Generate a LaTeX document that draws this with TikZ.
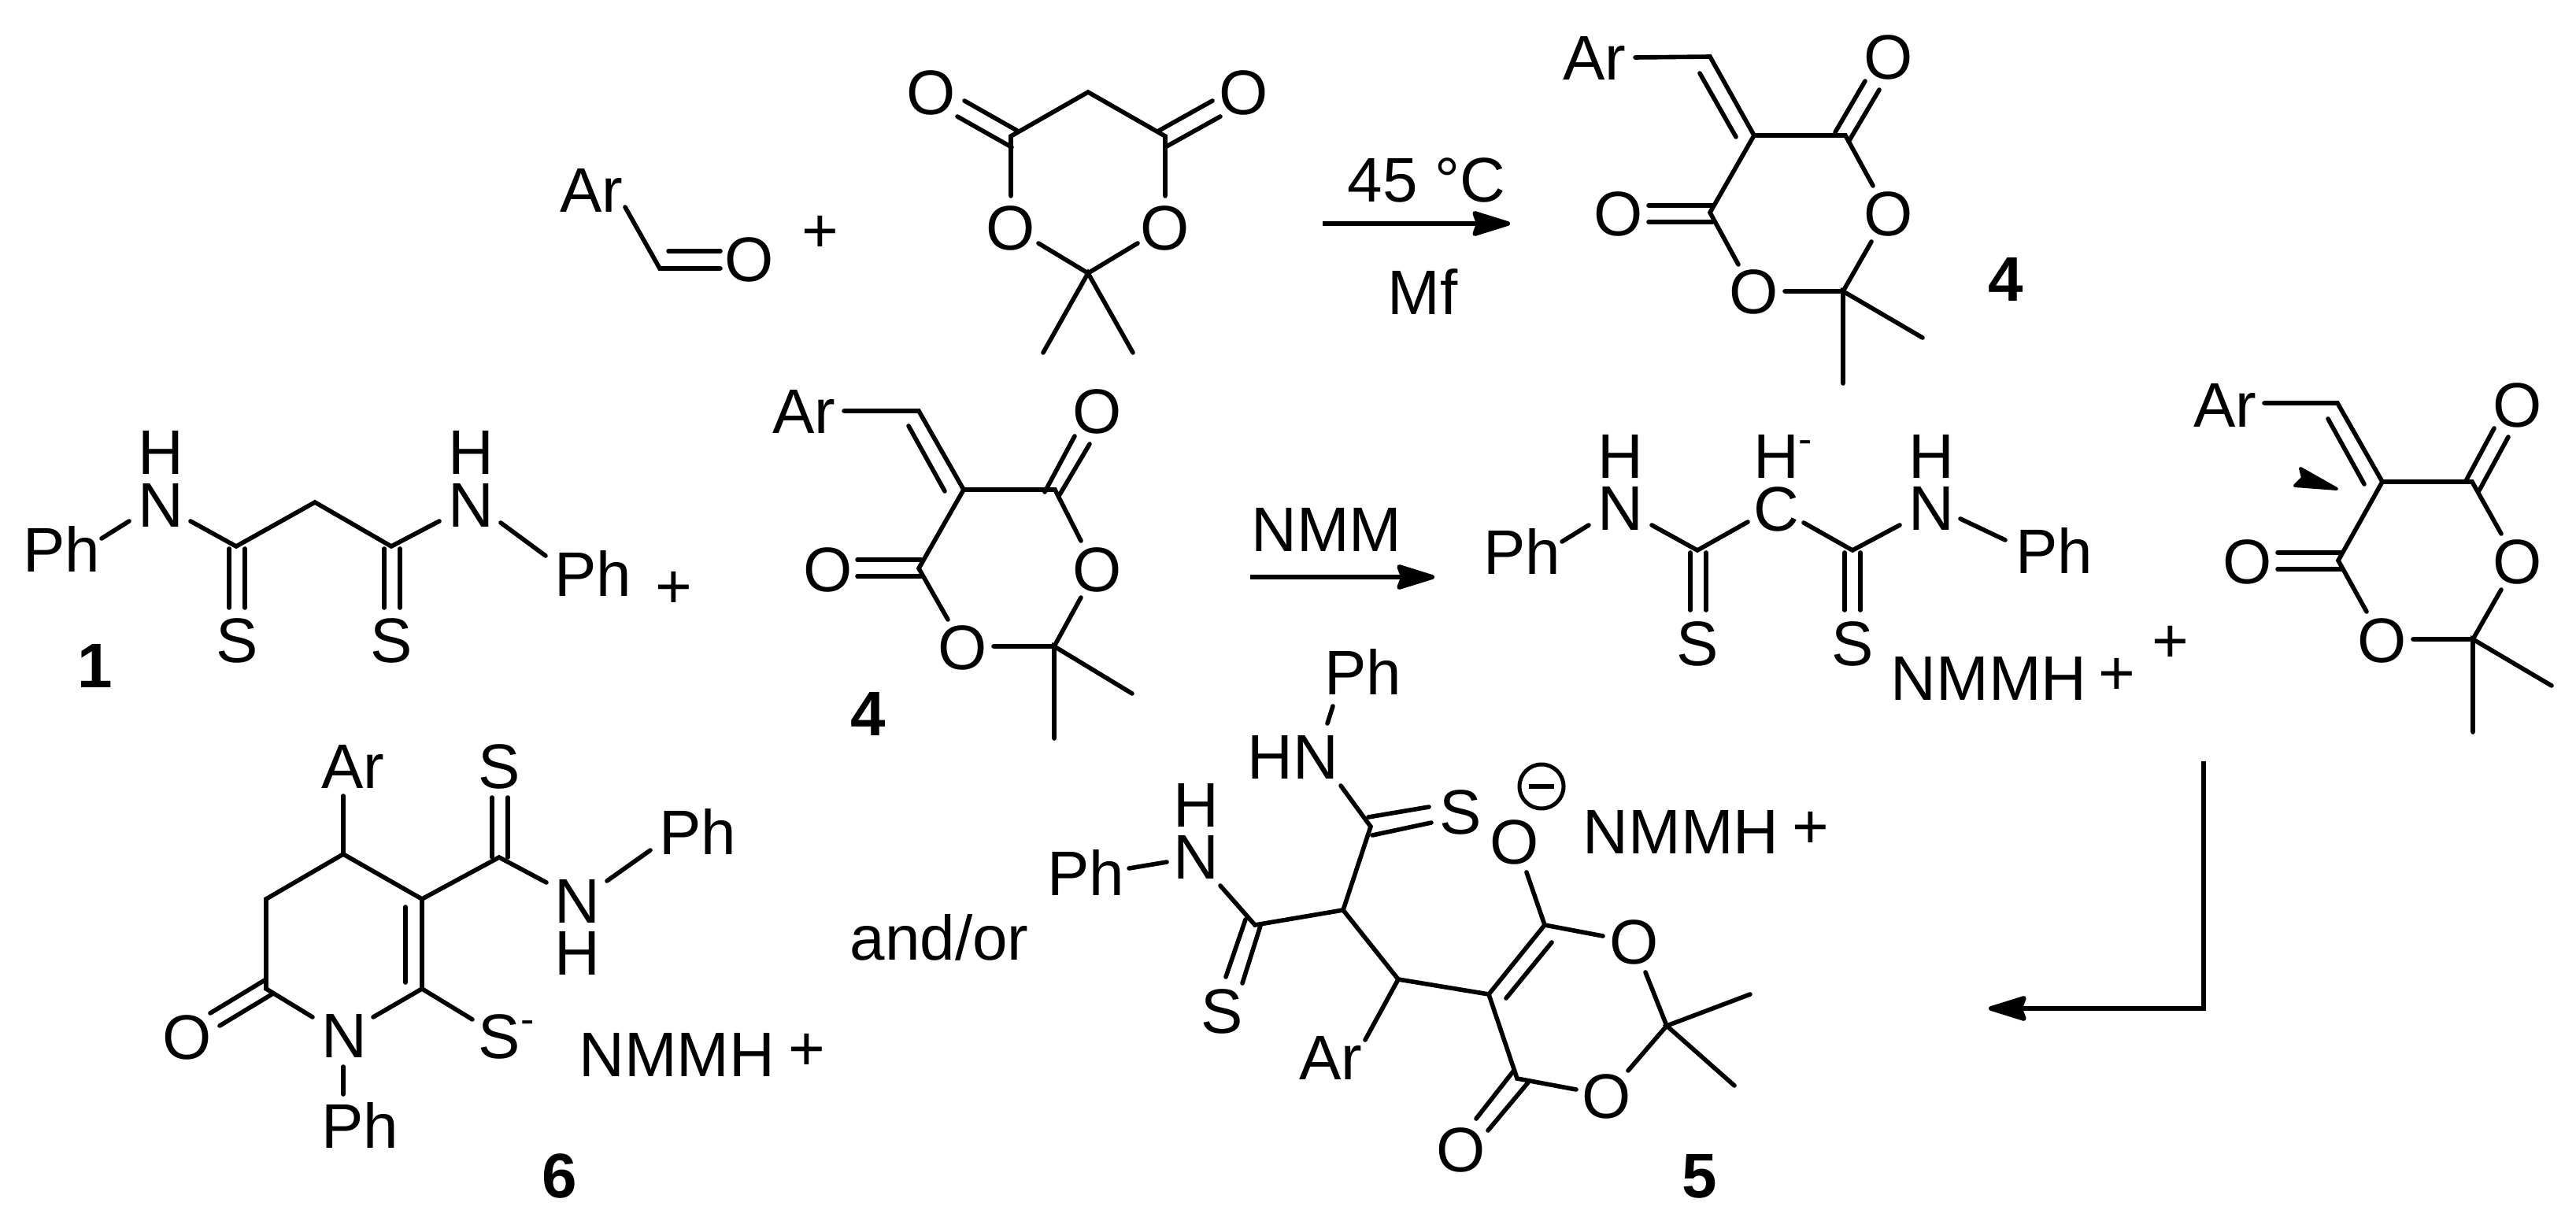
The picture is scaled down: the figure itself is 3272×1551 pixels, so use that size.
\documentclass[tikz,border=0pt]{standalone}
\usepackage{fontspec}
\setmainfont{Liberation Sans}
\usetikzlibrary{arrows.meta}
\tikzset{
  txt/.style={inner sep=0pt,outer sep=0pt,anchor=base,font=\fontsize{40}{48}\selectfont},
  numlabel/.style={txt,font=\fontsize{40}{48}\selectfont\bfseries},
  chg/.style={txt,font=\fontsize{26}{30}\selectfont},
  bond/.style={line width=2.8pt,line cap=round,line join=miter},
  rxn/.style={line width=2.9pt,-{Stealth[length=28pt,width=17pt,inset=3pt,sep=0pt,round]}}
}
\newcommand{\atm}[4]{\node[txt] (#1) at (#2,#3) {#4};}
\newcommand{\bnd}[1]{\draw[bond] #1;}
\begin{document}
\begin{tikzpicture}[x=0.5pt,y=-0.5pt]
\useasboundingbox (0,0) rectangle (3272,1551);
% --- top left: aldehyde and Meldrum's acid
\atm{arA}{751}{270}{Ar}
\atm{oA}{952}{358}{O}
\atm{plusA}{1042}{321}{+}
\bnd{(794,263)--(838,341)--(915,341)}
\bnd{(849,319)--(915,319)}
\atm{oB}{1183}{146}{O}
\atm{oC}{1580}{146}{O}
\atm{oD}{1284}{318}{O}
\atm{oE}{1480}{318}{O}
\bnd{(1284,249)--(1284,173)--(1382,117)--(1480,173)--(1480,249)}
\bnd{(1225,128)--(1292,166)}
\bnd{(1216,148)--(1285,187)}
\bnd{(1540,128)--(1472,166)}
\bnd{(1550,148)--(1480,187)}
\bnd{(1319,309)--(1382,347)--(1445,309)}
\bnd{(1325,448)--(1382,347)--(1439,448)}
% --- first arrow
\coordinate (aAs) at (1680,284);
\coordinate (aAe) at (1918,284);
\draw[rxn] (aAs) -- (aAe);
\atm{tempA}{1812}{257}{45 °C}
\atm{mfA}{1807}{400}{Mf}
% --- product 4 (top)
\atm{arB}{2025}{102}{Ar}
\atm{oF}{2399}{101}{O}
\atm{oG}{2399}{300}{O}
\atm{oH}{2056}{300}{O}
\atm{oI}{2228}{399}{O}
\node[numlabel] (nA) at (2548,383) {4};
\bnd{(2077,73)--(2172,72)--(2228,172)--(2344,172)--(2379,236)}
\bnd{(2159,93)--(2205,174)}
\bnd{(2331,168)--(2369,103)}
\bnd{(2348,180)--(2387,114)}
\bnd{(2228,172)--(2172,270)--(2208,336)}
\bnd{(2094,261)--(2175,261)}
\bnd{(2094,282)--(2175,282)}
\bnd{(2267,370)--(2341,370)--(2377,307)}
\bnd{(2442,429)--(2341,370)--(2341,487)}
% --- compound 1
\atm{phA}{78}{726}{Ph}
\atm{hA}{204}{602}{H}
\atm{nB}{204}{669}{N}
\atm{hB}{598}{602}{H}
\atm{nC}{598}{669}{N}
\atm{sA}{301}{841}{S}
\atm{sB}{497}{841}{S}
\atm{phB}{753}{757}{Ph}
\atm{plusB}{856}{772}{+}
\node[numlabel] (nB1) at (121,873) {1};
\bnd{(129,684)--(164,662)}
\bnd{(242,662)--(300,694)--(400,638)--(497,694)--(558,662)}
\bnd{(291,697)--(291,772)}
\bnd{(311,697)--(311,772)}
\bnd{(488,697)--(488,772)}
\bnd{(508,697)--(508,772)}
\bnd{(636,664)--(693,706)}
% --- compound 4 (middle)
\atm{arC}{1021}{551}{Ar}
\atm{oJ}{1394}{551}{O}
\atm{oK}{1394}{751}{O}
\atm{oL}{1052}{751}{O}
\atm{oM}{1223}{850}{O}
\node[numlabel] (nC1) at (1103,934) {4};
\bnd{(1072,522)--(1167,522)--(1224,622)--(1340,622)--(1373,687)}
\bnd{(1154,541)--(1200,624)}
\bnd{(1327,625)--(1365,554)}
\bnd{(1345,630)--(1384,564)}
\bnd{(1224,622)--(1167,722)--(1204,787)}
\bnd{(1089,711)--(1170,711)}
\bnd{(1089,732)--(1170,732)}
\bnd{(1262,821)--(1339,821)--(1373,759)}
\bnd{(1438,881)--(1339,821)--(1339,938)}
% --- second arrow
\coordinate (aBs) at (1588,733);
\coordinate (aBe) at (1822,733);
\draw[rxn] (aBs) -- (aBe);
\atm{nmmA}{1685}{700}{NMM}
% --- anion
\atm{phC}{1933}{729}{Ph}
\atm{hC}{2058}{607}{H}
\atm{nD}{2058}{673}{N}
\atm{hD}{2256}{607}{H}
\node[chg] (mA) at (2293,575) {-};
\atm{cA}{2256}{674}{C}
\atm{hE}{2453}{607}{H}
\atm{nE}{2453}{673}{N}
\atm{phD}{2609}{728}{Ph}
\atm{sC}{2156}{845}{S}
\atm{sD}{2353}{845}{S}
\atm{nmmB}{2526}{889}{NMMH}
\atm{plusC}{2689}{882}{+}
\atm{plusD}{2757}{841}{+}
\bnd{(1984,688)--(2018,667)}
\bnd{(2098,667)--(2156,699)--(2220,663)}
\bnd{(2291,664)--(2353,699)--(2413,667)}
\bnd{(2490,659)--(2547,686)}
\bnd{(2147,702)--(2147,775)}
\bnd{(2167,702)--(2167,775)}
\bnd{(2343,702)--(2343,775)}
\bnd{(2363,702)--(2363,775)}
% --- compound 4 (right)
\atm{arD}{2826}{542}{Ar}
\atm{oN}{3198}{542}{O}
\atm{oO}{3198}{741}{O}
\atm{oP}{2855}{741}{O}
\atm{oQ}{3026}{841}{O}
\bnd{(2876,512)--(2969,512)--(3026,612)--(3140,612)--(3177,678)}
\bnd{(2957,532)--(3003,615)}
\bnd{(3132,611)--(3168,544)}
\bnd{(3149,623)--(3186,555)}
\bnd{(3026,612)--(2970,712)--(3006,777)}
\bnd{(2893,702)--(2975,702)}
\bnd{(2893,723)--(2975,723)}
\bnd{(3065,812)--(3141,812)--(3177,749)}
\bnd{(3241,871)--(3141,812)--(3141,930)}
\draw[fill=black,line width=2pt,line join=round] (2922,595) -- (2968,621) -- (2915,617) -- (2925,607) -- cycle;
% --- bent arrow
\coordinate (aCs) at (2799,967);
\coordinate (aCb) at (2799,1281);
\coordinate (aCe) at (2526,1281);
\draw[rxn,line join=miter] (aCs) -- (aCb) -- (aCe);
% --- compound 6
\atm{arE}{448}{1001}{Ar}
\atm{sE}{634}{1001}{S}
\atm{phE}{886}{1085}{Ph}
\atm{nF}{733}{1172}{N}
\atm{hF}{733}{1238}{H}
\atm{oR}{238}{1345}{O}
\atm{nG}{437}{1343}{N}
\atm{sF}{634}{1344}{S}
\node[chg] (mB) at (670,1312) {-};
\atm{phF}{457}{1458}{Ph}
\atm{nmmC}{860}{1367}{NMMH}
\atm{plusE}{1025}{1359}{+}
\node[numlabel] (nD1) at (711,1521) {6};
\bnd{(436,1011)--(436,1085)}
\bnd{(625,1013)--(625,1089)}
\bnd{(645,1013)--(645,1089)}
\bnd{(397,1292)--(338,1256)--(338,1142)--(436,1085)--(536,1142)--(536,1256)--(474,1292)}
\bnd{(515,1152)--(515,1248)}
\bnd{(536,1142)--(634,1089)--(694,1121)}
\bnd{(771,1119)--(826,1080)}
\bnd{(338,1244)--(267,1287)}
\bnd{(347,1262)--(279,1303)}
\bnd{(536,1256)--(600,1295)}
\bnd{(436,1355)--(436,1390)}
% --- and/or
\atm{andor}{1193}{1219}{and/or}
% --- compound 5
\atm{phG}{1731}{882}{Ph}
\atm{hnA}{1642}{989}{HN}
\atm{sG}{1855}{1059}{S}
\atm{hG}{1519}{1050}{H}
\atm{nH}{1519}{1116}{N}
\atm{phH}{1379}{1137}{Ph}
\atm{sH}{1552}{1312}{S}
\atm{arF}{1690}{1371}{Ar}
\atm{oS}{1924}{1097}{O}
\atm{oT}{2076}{1224}{O}
\atm{oU}{2041}{1420}{O}
\atm{oV}{1856}{1488}{O}
\atm{nmmD}{2135}{1084}{NMMH}
\atm{plusF}{2300}{1077}{+}
\node[numlabel] (nE1) at (2159,1521) {5};
\node[circle,draw,line width=2.5pt,minimum size=28pt,inner sep=0pt] (chgO) at (1958,999) {};
\draw[line width=2.8pt] ([xshift=-8pt]chgO.center) -- ([xshift=8pt]chgO.center);
\bnd{(1693,897)--(1686,919)}
\bnd{(1703,998)--(1741,1050)--(1706,1156)--(1594,1175)--(1550,1125)}
\bnd{(1738,1038)--(1815,1025)}
\bnd{(1743,1061)--(1818,1045)}
\bnd{(1434,1103)--(1482,1095)}
\bnd{(1582,1168)--(1557,1241)}
\bnd{(1601,1176)--(1578,1249)}
\bnd{(1706,1156)--(1776,1244)--(1891,1263)--(1962,1175)--(1939,1108)}
\bnd{(1776,1244)--(1734,1321)}
\bnd{(1913,1268)--(1971,1197)}
\bnd{(1962,1175)--(2036,1189)}
\bnd{(1891,1263)--(1927,1370)--(2002,1384)}
\bnd{(1922,1361)--(1875,1421)}
\bnd{(1941,1375)--(1890,1436)}
\bnd{(2090,1235)--(2117,1303)--(2068,1360)}
\bnd{(2223,1263)--(2117,1303)--(2203,1379)}
\end{tikzpicture}
\end{document}
